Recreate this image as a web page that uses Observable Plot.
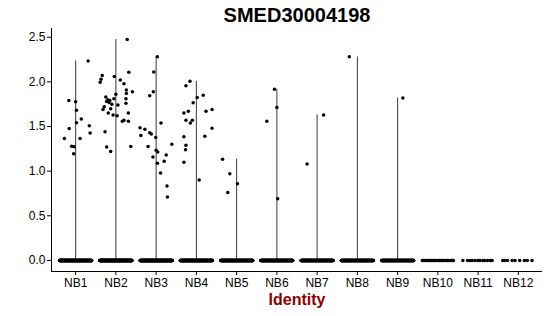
<!DOCTYPE html>
<html>
<head>
<meta charset="utf-8">
<script src="https://cdn.jsdelivr.net/npm/d3@7"></script>
<script src="https://cdn.jsdelivr.net/npm/@observablehq/plot@0.6"></script>
<style>
  html, body { margin: 0; padding: 0; background: #fff; }
  #chart svg { display: block; }
</style>
</head>
<body>
<div id="chart"></div>
<script>
const title = "SMED30004198";
const xLabel = "Identity";
const categories = ["NB1","NB2","NB3","NB4","NB5","NB6","NB7","NB8","NB9","NB10","NB11","NB12"];
const yTicks = [0, 0.5, 1.0, 1.5, 2.0, 2.5];
// number of cells with zero expression per identity
const zeroCounts = [260, 300, 280, 260, 240, 230, 220, 210, 200, 30, 12, 9];

// non-zero expression values per identity
const nb1 = [1.367,1.479,1.79,1.28,1.273,1.194,1.778,1.681,1.543,1.367,1.584,2.235,1.509,1.426];
const nb2 = [2.474,2.107,2.07,2.03,1.995,2.06,2.02,1.98,1.91,1.87,1.89,1.86,1.83,1.81,1.80,1.81,1.78,1.77,1.76,1.72,1.69,1.70,1.74,1.65,1.63,1.62,1.65,1.57,1.56,1.56,1.44,1.27,1.22,1.276,1.75,1.79];
const nb3 = [2.28,2.11,1.89,1.845,1.54,1.486,1.47,1.40,1.43,1.415,1.377,1.30,1.276,1.235,1.216,1.16,1.18,1.11,1.09,0.98,0.834,0.71];
const nb4 = [2.006,1.957,1.826,1.85,1.766,1.67,1.65,1.67,1.69,1.57,1.57,1.54,1.48,1.385,1.39,1.29,1.24,1.10,0.90];
const nb5 = [1.134,0.97,0.86,0.76];
const nb6 = [1.916,1.714,1.56,0.69];
const nb7 = [1.08,1.63];
const nb8 = [2.28];
const nb9 = [1.82];
const nb10 = [], nb11 = [], nb12 = [];

// horizontal jitter (fraction of a category step) read for each non-zero point
const nb1Jitter = [-0.28,-0.16,-0.17,-0.10,-0.04,-0.05,0,0.02,0.02,0.11,0.14,0.31,0.34,0.36];
const nb2Jitter = [0.28,0.32,-0.34,-0.37,-0.39,-0.04,0.11,0.2,0.26,0.26,0.41,0,-0.25,-0.05,-0.2,0.25,-0.23,-0.17,0.25,-0.29,-0.32,-0.13,0.05,-0.19,-0.07,0.03,0.31,0.2,0.16,0.31,-0.27,-0.23,-0.13,0.37,-0.1,-0.15];
const nb3Jitter = [0.03,-0.06,-0.07,-0.16,0.12,-0.4,-0.28,-0.38,-0.16,-0.12,-0.01,0.39,-0.2,0,0.04,-0.08,0.25,0.2,0.03,0.11,0.27,0.28];
const nb4Jitter = [-0.16,-0.26,0.02,0.17,-0.08,-0.2,-0.31,0.24,0.39,-0.26,-0.1,-0.15,0.39,-0.31,0.21,-0.26,-0.27,-0.31,0.07];
const nb5Jitter = [-0.35,-0.17,0.02,-0.22];
const nb6Jitter = [-0.06,0,-0.25,0.02];
const nb7Jitter = [-0.25,0.16];
const nb8Jitter = [-0.2];
const nb9Jitter = [0.13];

const groups = [nb1,nb2,nb3,nb4,nb5,nb6,nb7,nb8,nb9,nb10,nb11,nb12];
const jitters = [nb1Jitter,nb2Jitter,nb3Jitter,nb4Jitter,nb5Jitter,nb6Jitter,nb7Jitter,nb8Jitter,nb9Jitter,[],[],[]];

const points = [];
categories.forEach((c, i) => {
  for (let k = 0; k < zeroCounts[i]; k++) {
    const u = (k * 0.6180339887 + 0.37 * i) % 1;
    points.push({x: i + (u - 0.5) * 0.8, y: 0});
  }
  groups[i].forEach((v, k) => points.push({x: i + jitters[i][k], y: v}));
});
const violins = categories.map((c, i) => ({x: i, max: d3.max([0, ...groups[i]])})).filter(d => d.max > 0);

const yMax = d3.max(groups.flat());
const yPad = yMax * 0.05;

const chart = Plot.plot({
  width: 550,
  height: 316,
  marginLeft: 51,
  marginRight: 8,
  marginTop: 28,
  marginBottom: 45,
  style: {fontFamily: "'Liberation Sans', Arial, Helvetica, sans-serif", background: "#fff", color: "#000"},
  x: {type: "linear", domain: [-0.6, categories.length - 0.4]},
  y: {domain: [-yPad, yMax + yPad]},
  marks: [
    Plot.ruleX(violins, {x: "x", y1: 0, y2: "max", stroke: "#3a3a3a", strokeWidth: 1}),
    Plot.dot(points, {x: "x", y: "y", r: 1.75, fill: "#000", stroke: "none"}),
    Plot.ruleX([-0.6], {stroke: "#000", strokeWidth: 1}),
    Plot.ruleY([-yPad], {stroke: "#000", strokeWidth: 1}),
    Plot.axisY({ticks: yTicks, tickFormat: d3.format(".1f"), tickSize: 4, tickPadding: 2, fontSize: 12, label: null, stroke: "#000", fill: "#000"}),
    Plot.axisX({ticks: d3.range(categories.length), tickFormat: i => categories[i], tickSize: 4, tickPadding: 3, fontSize: 12, label: null, stroke: "#000", fill: "#000"}),
    Plot.text([title], {text: d => d, frameAnchor: "top", lineAnchor: "bottom", dy: -7, fontSize: 20, fontWeight: "bold", fill: "#000"}),
    Plot.text([xLabel], {text: d => d, frameAnchor: "bottom", lineAnchor: "bottom", dy: 33, fontSize: 16, fontWeight: "bold", fill: "#8B0000"})
  ]
});
document.getElementById("chart").appendChild(chart);
</script>
</body>
</html>
